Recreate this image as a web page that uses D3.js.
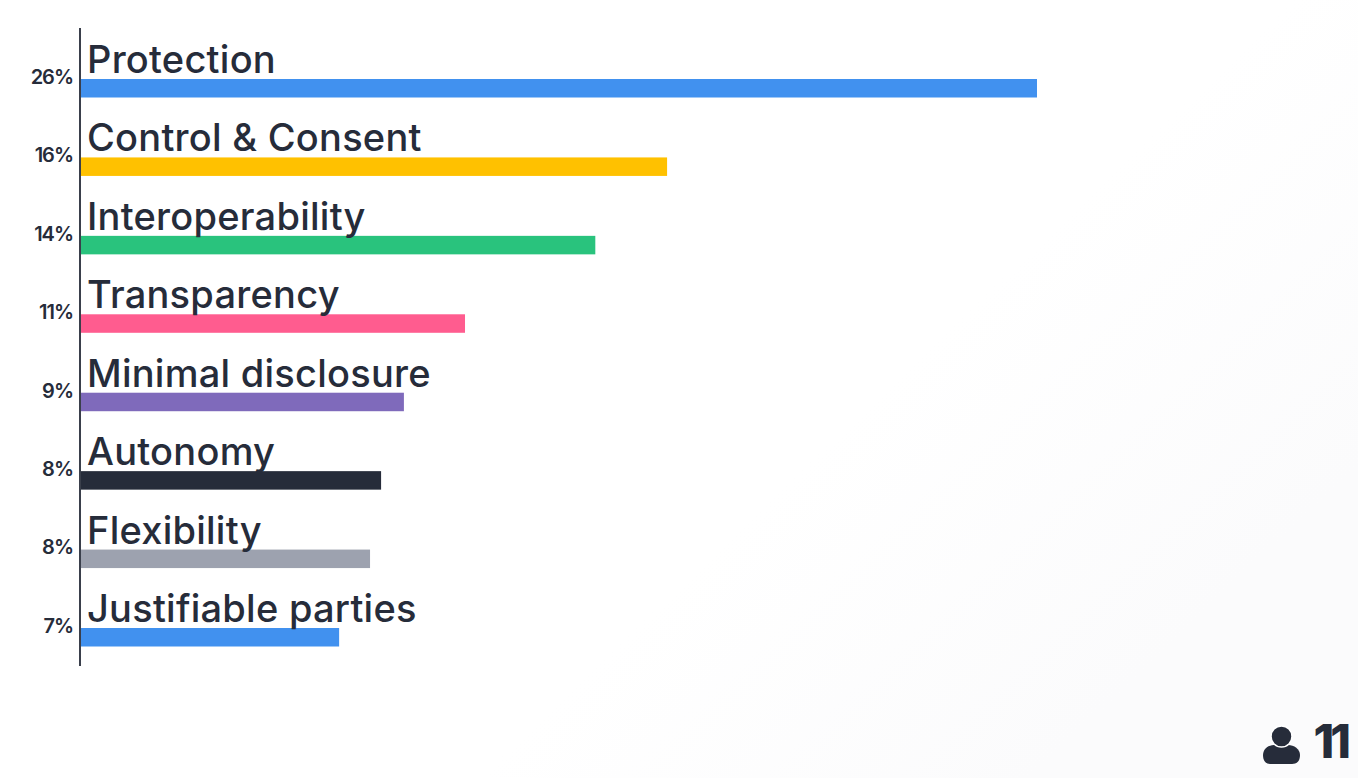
<!DOCTYPE html>
<html>
<head>
<meta charset="utf-8">
<script src="https://cdn.jsdelivr.net/npm/d3@7"></script>
<style>
    html, body { margin: 0; padding: 0; background: #fff; overflow: hidden; }
    text { font-family: Inter, sans-serif; fill: #262c3a; }
</style>
</head>
<body>
<div id="chart"></div>
<script>
var categories = ["Protection", "Control & Consent", "Interoperability", "Transparency", "Minimal disclosure", "Autonomy", "Flexibility", "Justifiable parties"];
var values = [26, 15.95, 14, 10.46, 8.8, 8.18, 7.88, 7.04];
var tickLabels = ["26%", "16%", "14%", "11%", "9%", "8%", "8%", "7%"];
var colors = ["#4191ef", "#ffc100", "#29c37d", "#ff5c8f", "#7f6abb", "#262c3a", "#9da2af", "#4191ef"];
var respondents = "11";

var width = 1358, height = 778;
var svg = d3.select("#chart").append("svg").attr("width", width).attr("height", height).style("display", "block");

// very faint grey towards the right corner
var grad = svg.append("defs").append("linearGradient").attr("id", "bg")
    .attr("x1", "0%").attr("y1", "0%").attr("x2", "100%").attr("y2", "60%");
grad.append("stop").attr("offset", "70%").attr("stop-color", "#ffffff");
grad.append("stop").attr("offset", "100%").attr("stop-color", "#fbfbfc");
svg.append("rect").attr("width", width).attr("height", height).attr("fill", "url(#bg)");

var x = d3.scaleLinear().domain([0, 26]).range([80, 1037]);
var y = d3.scalePoint().domain(categories).range([79, 628]);
var barHeight = 18.5;

// bars
svg.append("g").selectAll("rect")
    .data(categories)
    .enter().append("rect")
    .attr("x", x(0))
    .attr("y", function (d) { return y(d); })
    .attr("width", function (d, i) { return x(values[i]) - x(0); })
    .attr("height", barHeight)
    .attr("fill", function (d, i) { return colors[i]; });

// category labels sit on top of the bars
svg.append("g").selectAll("text")
    .data(categories)
    .enter().append("text")
    .attr("x", 87)
    .attr("y", function (d) { return y(d) - 6; })
    .attr("font-size", 38)
    .attr("font-weight", 500)
    .attr("letter-spacing", 0.25)
    .text(function (d) { return d; });

// axis with the percentages
var axis = svg.append("g")
    .attr("transform", "translate(" + x(0) + ",-2)")
    .call(d3.axisLeft(y).tickSize(0).tickPadding(7).tickFormat(function (d, i) { return tickLabels[i]; }));
axis.select(".domain").remove();
axis.selectAll("text")
    .attr("font-size", 20)
    .attr("font-weight", 600)
    .attr("letter-spacing", -1)
    .style("font-family", "Inter, sans-serif")
    .style("fill", "#262c3a");

svg.append("line")
    .attr("x1", x(0)).attr("x2", x(0))
    .attr("y1", 28).attr("y2", 666)
    .attr("stroke", "#3a3f4b")
    .attr("stroke-width", 2);

// respondent count, bottom right
var person = svg.append("g").attr("fill", "#262c3a");
person.append("path").attr("d", "M1263 755 C1263 749 1268 745 1274 745 L1288 745 C1294 745 1300 749 1300 755 C1300 761 1297 764 1292 764 L1270 764 C1266 764 1263 761 1263 755 Z");
person.append("circle").attr("cx", 1281.5).attr("cy", 736.5).attr("r", 10.5)
    .attr("stroke", "#ffffff").attr("stroke-width", 1.5);
svg.append("text")
    .attr("x", 1347).attr("y", 758)
    .attr("text-anchor", "end")
    .attr("font-size", 47).attr("font-weight", 800)
    .attr("letter-spacing", -4)
    .text(respondents);
</script>
</body>
</html>
